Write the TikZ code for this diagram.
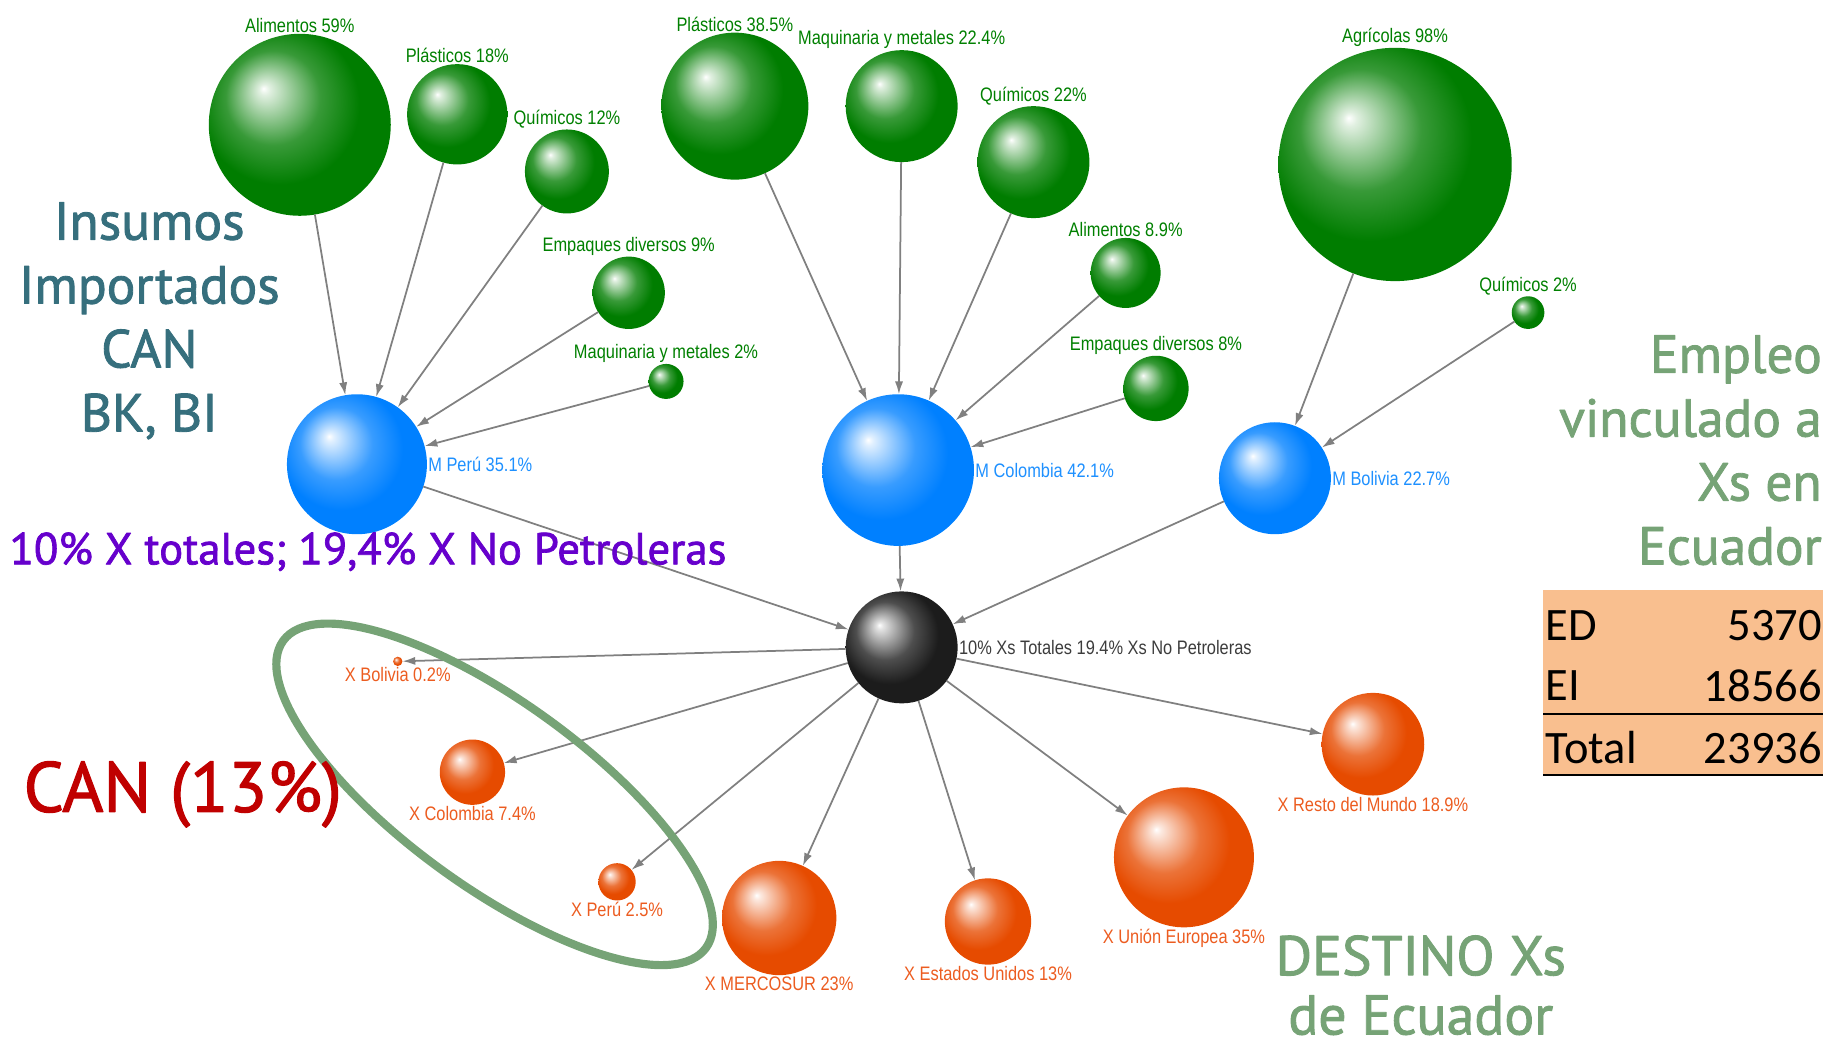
\documentclass[tikz,border=0pt]{standalone}
\usepackage{fontspec}
\usepackage{tikz}
\usetikzlibrary{arrows,arrows.meta,positioning,shapes,calc}
\newfontfamily\lblfont[FakeStretch=0.84]{Liberation Sans}
\newfontfamily\bigfont[FakeBold=1.6]{PT Sans}
\newfontfamily\tabfont{Carlito}

\definecolor{sphgreen}{RGB}{0,125,0}
\definecolor{sphblue}{RGB}{0,128,255}
\definecolor{sphorange}{RGB}{230,75,0}
\definecolor{sphblack}{RGB}{28,28,28}
\definecolor{lblgreen}{RGB}{0,128,0}
\definecolor{lblblue}{RGB}{30,144,255}
\definecolor{lblorange}{RGB}{236,92,32}
\definecolor{lblgray}{RGB}{60,60,60}
\definecolor{edgegray}{RGB}{128,128,128}
\definecolor{insumoscol}{RGB}{54,111,125}
\definecolor{purpcol}{RGB}{102,0,204}
\definecolor{cancol}{RGB}{192,0,0}
\definecolor{softgreen}{RGB}{118,163,118}
\definecolor{peach}{RGB}{249,191,143}

\colorlet{sphcol}{black}
\pgfdeclareradialshading[sphcol]{sphere}{\pgfqpoint{-10bp}{10bp}}{%
  color(0bp)=(white);
  color(1.5bp)=(sphcol!12!white);
  color(13bp)=(sphcol!78!white);
  color(22bp)=(sphcol);
  color(50bp)=(sphcol)}

\begin{document}
\begin{tikzpicture}[>={Latex[length=11bp,width=7bp]},line join=bevel,
  sph/.style={circle,inner sep=0pt,outer sep=0pt,minimum size=#1,shading=sphere},
  sphere color/.code={\colorlet{sphcol}{#1}},
  grnball/.style={sph=#1,sphere color=sphgreen},
  bluball/.style={sph=#1,sphere color=sphblue},
  ornball/.style={sph=#1,sphere color=sphorange},
  blkball/.style={sph=#1,sphere color=sphblack},
  lbl/.style={font=\lblfont\fontsize{16.8}{18}\selectfont,inner sep=1bp},
  glbl/.style={lbl,text=lblgreen},
  blbl/.style={lbl,text=lblblue},
  olbl/.style={lbl,text=lblorange},
  klbl/.style={lbl,text=lblgray},
  edge/.style={->,draw=edgegray,line width=1.5bp},
  bigtxt/.style={font=\bigfont\fontsize{46}{55}\selectfont,inner sep=0pt},
  tabtxt/.style={font=\tabfont\fontsize{40}{48}\selectfont,inner sep=0pt}]
  \useasboundingbox (0bp,0bp) rectangle (1568bp,901bp);
%%
  % Node: alimP
  \node [grnball=156bp,label={[glbl]above:Alimentos 59\%}] (alimP) at (257bp,794bp) {};
  % Node: plasP
  \node [grnball=86bp,label={[glbl]above:Plásticos 18\%}] (plasP) at (392bp,803bp) {};
  % Node: quimP
  \node [grnball=72bp,label={[glbl]above:Químicos 12\%}] (quimP) at (486bp,754bp) {};
  % Node: empP
  \node [grnball=62bp,label={[glbl]above:Empaques diversos 9\%}] (empP) at (539bp,650bp) {};
  % Node: maqP
  \node [grnball=30bp,label={[glbl]above:Maquinaria y metales 2\%}] (maqP) at (571bp,574bp) {};
  % Node: mPeru
  \node [bluball=120bp,label={[blbl]right:M Perú 35.1\%}] (mPeru) at (306bp,503bp) {};
  % Node: plasC
  \node [grnball=126bp,label={[glbl]above:Plásticos 38.5\%}] (plasC) at (630bp,810bp) {};
  % Node: maqC
  \node [grnball=96bp,label={[glbl]above:Maquinaria y metales 22.4\%}] (maqC) at (773bp,810bp) {};
  % Node: quimC
  \node [grnball=96bp,label={[glbl]above:Químicos 22\%}] (quimC) at (886bp,762bp) {};
  % Node: aliC
  \node [grnball=60bp,label={[glbl]above:Alimentos 8.9\%}] (aliC) at (965bp,667bp) {};
  % Node: empC
  \node [grnball=56bp,label={[glbl]above:Empaques diversos 8\%}] (empC) at (991bp,568bp) {};
  % Node: mCol
  \node [bluball=130bp,label={[blbl]right:M Colombia 42.1\%}] (mCol) at (770bp,498bp) {};
  % Node: agrB
  \node [grnball=200bp,label={[glbl]above:Agrícolas 98\%}] (agrB) at (1196bp,760bp) {};
  % Node: quimB
  \node [grnball=28bp,label={[glbl]above:Químicos 2\%}] (quimB) at (1310bp,633bp) {};
  % Node: mBol
  \node [bluball=96bp,label={[blbl]right:M Bolivia 22.7\%}] (mBol) at (1093bp,491bp) {};
  % Node: xTot
  \node [blkball=96bp,label={[klbl]right:10\% Xs Totales 19.4\% Xs No Petroleras}] (xTot) at (773bp,346bp) {};
  % Node: xBol
  \node [ornball=8bp,label={[olbl]below:X Bolivia 0.2\%}] (xBol) at (341bp,334bp) {};
  % Node: xCol
  \node [ornball=56bp,label={[olbl]below:X Colombia 7.4\%}] (xCol) at (405bp,239bp) {};
  % Node: xPer
  \node [ornball=32bp,label={[olbl]below:X Perú 2.5\%}] (xPer) at (529bp,145bp) {};
  % Node: xMer
  \node [ornball=98bp,label={[olbl]below:X MERCOSUR 23\%}] (xMer) at (668bp,114bp) {};
  % Node: xUSA
  \node [ornball=74bp,label={[olbl]below:X Estados Unidos 13\%}] (xUSA) at (847bp,111bp) {};
  % Node: xUE
  \node [ornball=120bp,label={[olbl]below:X Unión Europea 35\%}] (xUE) at (1015bp,166bp) {};
  % Node: xRdM
  \node [ornball=88bp,label={[olbl]below:X Resto del Mundo 18.9\%}] (xRdM) at (1177bp,263bp) {};
%%
  % Edge: alimP -> mPeru
  \draw [edge] (alimP) -- (mPeru);
  % Edge: plasP -> mPeru
  \draw [edge] (plasP) -- (mPeru);
  % Edge: quimP -> mPeru
  \draw [edge] (quimP) -- (mPeru);
  % Edge: empP -> mPeru
  \draw [edge] (empP) -- (mPeru);
  % Edge: maqP -> mPeru
  \draw [edge] (maqP) -- (mPeru);
  % Edge: plasC -> mCol
  \draw [edge] (plasC) -- (mCol);
  % Edge: maqC -> mCol
  \draw [edge] (maqC) -- (mCol);
  % Edge: quimC -> mCol
  \draw [edge] (quimC) -- (mCol);
  % Edge: aliC -> mCol
  \draw [edge] (aliC) -- (mCol);
  % Edge: empC -> mCol
  \draw [edge] (empC) -- (mCol);
  % Edge: agrB -> mBol
  \draw [edge] (agrB) -- (mBol);
  % Edge: quimB -> mBol
  \draw [edge] (quimB) -- (mBol);
  % Edge: mPeru -> xTot
  \draw [edge] (mPeru) -- (xTot);
  % Edge: mCol -> xTot
  \draw [edge] (mCol) -- (xTot);
  % Edge: mBol -> xTot
  \draw [edge] (mBol) -- (xTot);
  % Edge: xTot -> X nodes
  \foreach \dest in {xBol,xCol,xPer,xMer,xUSA,xUE,xRdM}
    \draw [edge] (xTot) -- (\dest);
%%
  % CAN ring
  \draw [softgreen,line width=7bp,rotate around={-36:(424bp,220bp)}] (424bp,220bp) ellipse (224bp and 79bp);
  % Titles
  \node [bigtxt,text=insumoscol,align=center] (insumos) at (128bp,626bp) {Insumos\\Importados\\CAN\\BK, BI};
  \node [bigtxt,text=purpcol,anchor=west,font=\bigfont\fontsize{38.5}{42}\selectfont] (totales) at (8bp,428bp) {10\% X totales; 19,4\% X No Petroleras};
  \node [bigtxt,text=cancol,anchor=west,font=\bigfont\fontsize{61}{66}\selectfont] (canpct) at (20bp,220bp) {CAN (13\%)};
  \node [bigtxt,text=softgreen,align=right,anchor=east] (empleo) at (1562bp,515bp) {Empleo\\vinculado a\\Xs en\\Ecuador};
  \node [bigtxt,text=softgreen,align=center,text depth=0pt,anchor=south,font=\bigfont\fontsize{48}{51}\selectfont] (destino) at (1218bp,14bp) {DESTINO Xs\\de Ecuador};
  % Table
  \node [fill=peach,inner sep=0pt,minimum width=240bp,minimum height=158bp] (tabla) at (1443bp,316bp) {};
  \draw [line width=1.5bp] (1323bp,289bp) -- (1563bp,289bp);
  \draw [line width=1.5bp] (tabla.south west) -- (tabla.south east);
  \node [tabtxt,anchor=west] (edL) at (1325bp,365bp) {ED};
  \node [tabtxt,anchor=east] (edV) at (1562bp,365bp) {5370};
  \node [tabtxt,anchor=west] (eiL) at (1325bp,313bp) {EI};
  \node [tabtxt,anchor=east] (eiV) at (1562bp,313bp) {18566};
  \node [tabtxt,anchor=west] (totL) at (1325bp,260bp) {Total};
  \node [tabtxt,anchor=east] (totV) at (1562bp,260bp) {23936};
%
\end{tikzpicture}
\end{document}
